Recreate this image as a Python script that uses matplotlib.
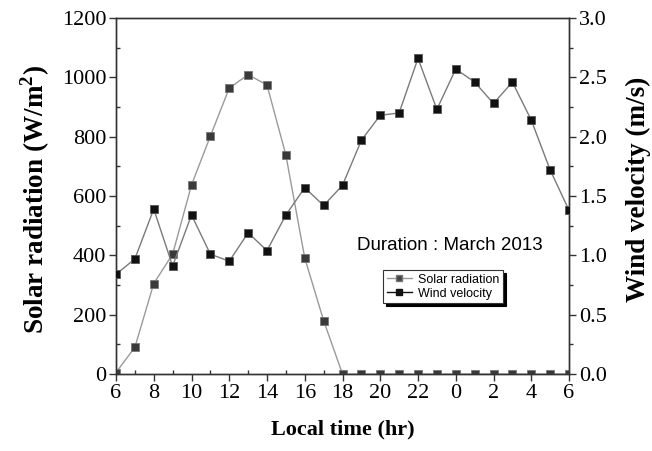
import matplotlib
matplotlib.use("Agg")
import matplotlib.pyplot as plt
from matplotlib.ticker import MultipleLocator, FixedLocator

hours = list(range(6, 31))
hour_labels = ["6", "8", "10", "12", "14", "16", "18", "20", "22", "0", "2", "4", "6"]
solar = [5, 90, 305, 404, 637, 802, 964, 1009, 974, 738, 391, 180,
         0, 0, 0, 0, 0, 0, 0, 0, 0, 0, 0, 0, 0]
wind = [0.84, 0.97, 1.39, 0.91, 1.34, 1.01, 0.95, 1.19, 1.04, 1.34, 1.57, 1.42,
        1.59, 1.97, 2.18, 2.20, 2.66, 2.23, 2.57, 2.46, 2.28, 2.46, 2.14, 1.72, 1.38]

plt.rcParams['font.family'] = ['Liberation Serif', 'DejaVu Serif']
plt.rcParams['mathtext.fontset'] = 'custom'
plt.rcParams['mathtext.bf'] = 'Liberation Serif:bold'
plt.rcParams['mathtext.rm'] = 'Liberation Serif'

fig = plt.figure(figsize=(6.52, 4.51), dpi=100)
ax = fig.add_axes([116/652, 1-374/451, 453/652, 356/451])
ax2 = ax.twinx()

l1, = ax.plot(hours, solar, '-', color='#9a9a9a', lw=1.0, marker='s', ms=5.5,
              mfc='#3a3a3a', mec='#777777', mew=0.6, zorder=3)
l2, = ax2.plot(hours, wind, '-', color='#7a7a7a', lw=1.0, marker='s', ms=5.5,
               mfc='#111111', mec='#555555', mew=0.6, zorder=3)

ax.set_xlim(6, 30)
ax.set_ylim(0, 1200)
ax2.set_ylim(0, 3.0)

ax.xaxis.set_major_locator(FixedLocator(list(range(6, 31, 2))))
ax.set_xticklabels(hour_labels)
ax.xaxis.set_minor_locator(MultipleLocator(1))
ax.yaxis.set_major_locator(MultipleLocator(200))
ax.yaxis.set_minor_locator(MultipleLocator(100))
ax2.yaxis.set_major_locator(MultipleLocator(0.5))
ax2.yaxis.set_minor_locator(MultipleLocator(0.25))
ax2.set_yticklabels([f"{v:.1f}" for v in ax2.get_yticks()])

for a in (ax, ax2):
    for s in a.spines.values():
        s.set_color('#333333')
        s.set_linewidth(1.0)

ax.tick_params(axis='both', which='major', direction='out', length=5, width=1,
               labelsize=16, pad=2, color='#333333')
ax.tick_params(axis='both', which='minor', direction='in', length=3, width=1, color='#333333')
ax2.tick_params(axis='y', which='major', direction='out', length=5, width=1,
                labelsize=16, pad=2, color='#333333')
ax2.tick_params(axis='y', which='minor', direction='out', length=3, width=1, color='#333333')

ax.set_xlabel('Local time (hr)', fontsize=16, fontweight='bold', labelpad=12)
ax.set_ylabel(r'Solar radiation (W/m$^{\mathbf{2}}$)', fontsize=19.5, fontweight='bold')
ax.yaxis.set_label_coords(-0.142, 0.49)
ax2.set_ylabel('Wind velocity (m/s)', fontsize=19.5, fontweight='bold')
ax2.yaxis.set_label_coords(1.125, 0.52)

ax.text(0.737, 0.362, 'Duration : March 2013', transform=ax.transAxes,
        ha='center', va='center', fontsize=13.5, family='Liberation Sans')

leg_handles = [
    plt.Line2D([], [], color='#9a9a9a', lw=1, marker='s', ms=4.5, mfc='#444444', mec='#777777'),
    plt.Line2D([], [], color='#111111', lw=1, marker='s', ms=4.5, mfc='#111111', mec='#111111'),
]
leg = ax.legend(leg_handles, ['Solar radiation', 'Wind velocity'],
                loc='upper left', bbox_to_anchor=(0.589, 0.292),
                prop={'family': 'Liberation Sans', 'size': 9},
                frameon=True, fancybox=False, shadow={'color': 'black', 'alpha': 1.0},
                handlelength=2.0, handletextpad=0.5, borderpad=0.3, labelspacing=0.15,
                borderaxespad=0)
leg.get_frame().set_edgecolor('#333333')
leg.get_frame().set_linewidth(0.8)
leg.set_zorder(10)

fig.savefig('out.png', dpi=100)
